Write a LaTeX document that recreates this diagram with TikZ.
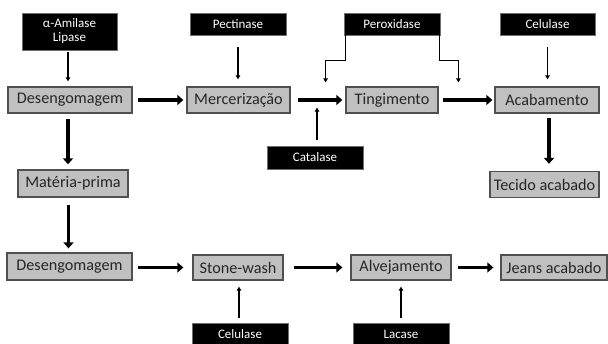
\documentclass[tikz,border=0pt]{standalone}
\usepackage{fontspec}
\setmainfont{Carlito}
\usetikzlibrary{arrows.meta}
\definecolor{boxgray}{RGB}{192,192,192}
\definecolor{boxedge}{RGB}{80,80,80}
\definecolor{enzedge}{RGB}{110,110,110}
\begin{document}
\begin{tikzpicture}[x=1pt,y=-1pt,
 proc/.style={draw=boxedge, line width=1.3pt, fill=boxgray, minimum height=26pt, inner sep=0pt,
   font=\fontsize{16.2}{18}\selectfont, text=black!85},
 enz/.style={draw=enzedge, line width=0.8pt, fill=black, text=white, minimum height=22pt,
   minimum width=96pt, inner sep=0pt, font=\fontsize{13}{14}\selectfont, align=center},
 big/.style={line width=3.5pt, -{Triangle[length=6pt,width=10pt]}},
 thin/.style={line width=1.1pt, -{Triangle[length=4pt,width=4.5pt]}},
 link/.style={line width=1.1pt},
]
\useasboundingbox (0,0) rectangle (608,344);
\fill[white] (0,0) rectangle (608,344);

% enzyme boxes
\node[enz, minimum height=37pt, minimum width=95pt] (amil) at (69.5,31.5) {α-Amilase\\Lipase};
\node[enz] (pect) at (238,24) {Pectinase};
\node[enz] (perox) at (392,24) {Peroxidase};
\node[enz, minimum width=95pt] (celtop) at (547.5,24) {Celulase};
\node[enz, minimum height=23pt] (catal) at (315,157.5) {Catalase};
\node[enz] (celbot) at (240,334) {Celulase};
\node[enz] (lac) at (401,334) {Lacase};

% process boxes
\node[proc, minimum width=124pt] (des1) at (70,100) {Desengomagem};
\node[proc, minimum width=103pt] (merc) at (238.5,100) {Mercerização};
\node[proc, minimum width=92pt] (ting) at (392,100) {Tingimento};
\node[proc, minimum width=104pt] (acab) at (547,100) {Acabamento};
\node[proc, minimum width=110pt, minimum height=27pt] (mat) at (73,183.5) {Matéria-prima};
\node[proc, minimum width=109pt] (tec) at (544.5,184.5) {Tecido acabado};
\node[proc, minimum width=125pt, minimum height=27pt] (des2) at (69.5,266.5) {Desengomagem};
\node[proc, minimum width=90pt, minimum height=25pt] (stone) at (238,267.5) {Stone-wash};
\node[proc, minimum width=100pt, minimum height=25pt] (alv) at (401,267.5) {Alvejamento};
\node[proc, minimum width=106pt, minimum height=25pt] (jeans) at (554,267.5) {Jeans acabado};

% thin enzyme arrows
\draw[thin, shorten <=2pt, shorten >=5pt] ([xshift=-1.5pt]amil.south) -- ([xshift=-1.5pt]amil.south |- des1.north);
\draw[thin, shorten <=12pt, shorten >=7pt] (pect.south) -- (pect.south |- merc.north);
\draw[thin, shorten <=12pt, shorten >=7pt] (celtop.south) -- (celtop.south |- acab.north);
\draw[thin, shorten <=6pt] ([xshift=2pt]catal.north) -- ++(0,-38);
\draw[thin, shorten <=5pt, shorten >=6pt] ([xshift=-1pt]celbot.north) -- ([xshift=-1pt]celbot.north |- stone.south);
\draw[thin, shorten <=5pt, shorten >=6pt] (lac.north) -- (lac.north |- alv.south);
\draw[link, -{Triangle[length=4pt,width=4.5pt]}] ([xshift=2pt]perox.south west) -- ++(0,25) -| ++(-20,22);
\draw[link, -{Triangle[length=4pt,width=4.5pt]}] ([xshift=-1pt]perox.south east) -- ++(0,25) -| ++(19,22);

% thick process arrows
\draw[big, shorten <=5pt, shorten >=3pt] (des1.east) -- (merc.west);
\draw[big, shorten <=7pt, shorten >=3pt] (merc.east) -- (ting.west);
\draw[big, shorten <=4pt, shorten >=2pt] (ting.east) -- (acab.west);
\draw[big, shorten <=5pt, shorten >=5pt] ([xshift=-2pt]des1.south) -- ([xshift=-2pt]des1.south |- mat.north);
\draw[big, shorten <=7pt, shorten >=4pt] ([xshift=-1.5pt]des1.south |- mat.south) -- ([xshift=-1.5pt]des1.south |- des2.north);
\draw[big, shorten <=4pt, shorten >=7pt] ([xshift=2pt]acab.south) -- ([xshift=2pt]acab.south |- tec.north);
\draw[big, shorten <=5pt, shorten >=9pt] (des2.east |- stone.east) -- (stone.west);
\draw[big, shorten <=10pt, shorten >=8pt] (stone.east) -- (alv.west);
\draw[big, shorten <=6pt, shorten >=7pt] (alv.east) -- (jeans.west);
\end{tikzpicture}
\end{document}
